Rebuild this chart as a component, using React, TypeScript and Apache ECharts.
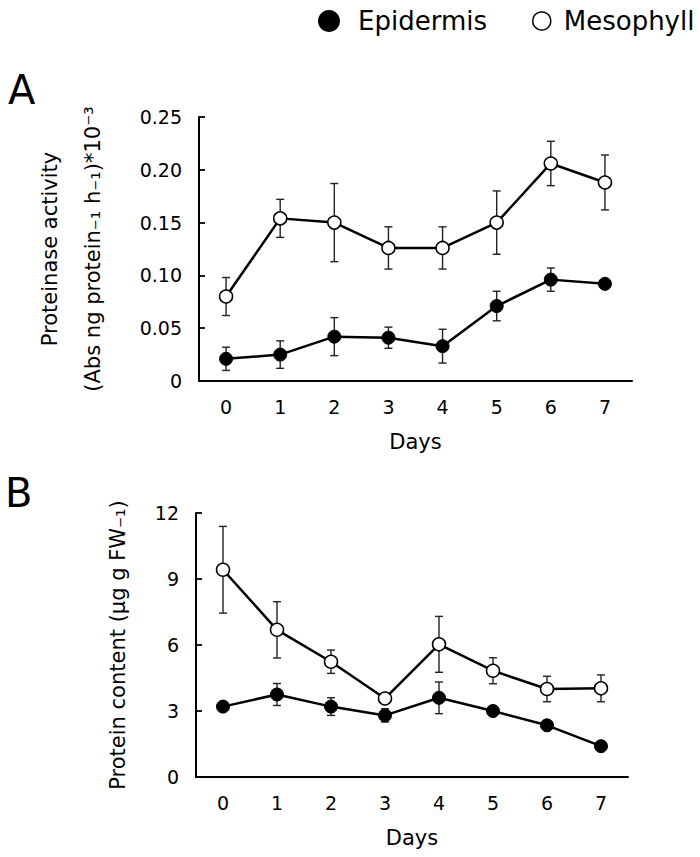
import React, { useEffect, useRef } from "react";
import * as echarts from "echarts";

const days = ["0", "1", "2", "3", "4", "5", "6", "7"];

const activityEpidermis = [0.021, 0.025, 0.042, 0.041, 0.033, 0.071, 0.096, 0.092];
const activityEpidermisErr = [0.011, 0.013, 0.018, 0.01, 0.016, 0.014, 0.011, 0.003];
const activityMesophyll = [0.08, 0.154, 0.15, 0.126, 0.126, 0.15, 0.206, 0.188];
const activityMesophyllErr = [0.018, 0.018, 0.037, 0.02, 0.02, 0.03, 0.021, 0.026];

const proteinEpidermis = [3.2, 3.75, 3.2, 2.8, 3.6, 3.0, 2.35, 1.4];
const proteinEpidermisErr = [0.1, 0.5, 0.4, 0.3, 0.72, 0.1, 0.1, 0.1];
const proteinMesophyll = [9.42, 6.69, 5.24, 3.57, 6.03, 4.83, 4.0, 4.03];
const proteinMesophyllErr = [1.97, 1.28, 0.53, 0.1, 1.27, 0.59, 0.58, 0.61];

const FONT = "DejaVu Sans";

function errData(vals: number[], errs: number[]) {
  return vals.map((v, i) => [i, v, errs[i]]);
}

function errorSeries(vals: number[], errs: number[], idx: number) {
  return {
    type: "custom",
    xAxisIndex: idx,
    yAxisIndex: idx,
    z: 1,
    silent: true,
    encode: { x: 0, y: 1 },
    data: errData(vals, errs),
    renderItem: (params: any, api: any) => {
      const x = api.value(0);
      const y = api.value(1);
      const e = api.value(2);
      const top = api.coord([x, y + e]);
      const bot = api.coord([x, y - e]);
      const w = 4;
      const style = { stroke: "#222", lineWidth: 1.4 };
      return {
        type: "group",
        children: [
          { type: "line", shape: { x1: top[0], y1: top[1], x2: bot[0], y2: bot[1] }, style },
          { type: "line", shape: { x1: top[0] - w, y1: top[1], x2: top[0] + w, y2: top[1] }, style },
          { type: "line", shape: { x1: bot[0] - w, y1: bot[1], x2: bot[0] + w, y2: bot[1] }, style },
        ],
      };
    },
  };
}

function lineSeries(name: string, vals: number[], idx: number, filled: boolean) {
  return {
    type: "line",
    name,
    xAxisIndex: idx,
    yAxisIndex: idx,
    z: 3,
    data: vals,
    symbol: "circle",
    symbolSize: 13,
    showSymbol: true,
    lineStyle: { color: "#000", width: 2.5 },
    itemStyle: filled
      ? { color: "#000", borderColor: "#000", borderWidth: 1 }
      : { color: "#fff", borderColor: "#000", borderWidth: 1.5 },
  };
}

const axisLabelStyle = { fontFamily: FONT, fontSize: 19, color: "#000" };

function xAxis(idx: number) {
  return {
    type: "category",
    gridIndex: idx,
    data: days,
    boundaryGap: true,
    name: "Days",
    nameLocation: "middle",
    nameGap: 50,
    nameTextStyle: { fontFamily: FONT, fontSize: 21, color: "#000" },
    axisLine: { lineStyle: { color: "#000", width: 2 } },
    axisTick: { inside: true, length: 6, alignWithLabel: true, lineStyle: { color: "#000", width: 1.8 } },
    axisLabel: { ...axisLabelStyle, margin: 16 },
    splitLine: { show: false },
  };
}

export default function App() {
  const ref = useRef<HTMLDivElement>(null);
  useEffect(() => {
    if (!ref.current) return;
    const chart = echarts.init(ref.current, null, { renderer: "svg" });
    const option: any = {
      animation: false,
      backgroundColor: "#fff",
      legend: [
        {
          left: 313,
          top: 3,
          itemWidth: 22,
          itemHeight: 22,
          selectedMode: false,
          data: [{ name: "Epidermis", icon: "circle", itemStyle: { color: "#000", borderWidth: 0 } }],
          textStyle: { fontFamily: FONT, fontSize: 26, color: "#000", padding: [0, 0, 0, 13] },
        },
        {
          left: 527,
          top: 3,
          itemWidth: 18,
          itemHeight: 18,
          selectedMode: false,
          data: [{ name: "Mesophyll", icon: "circle", itemStyle: { color: "#fff", borderColor: "#000", borderWidth: 1.5 } }],
          textStyle: { fontFamily: FONT, fontSize: 26, color: "#000", padding: [0, 0, 0, 8] },
        },
      ],
      grid: [
        { left: 199, top: 117, width: 433, height: 264 },
        { left: 196, top: 513, width: 432, height: 264 },
      ],
      xAxis: [xAxis(0), xAxis(1)],
      yAxis: [
        {
          type: "value",
          gridIndex: 0,
          min: 0,
          max: 0.25,
          interval: 0.05,
          name: "Proteinase activity\n(Abs ng protein\u208B\u2081 h\u208B\u2081)*10\u207B\u00B3",
          nameLocation: "middle",
          nameGap: 85,
          nameTextStyle: { fontFamily: FONT, fontSize: 21, color: "#000", lineHeight: 43 },
          axisLine: { show: true, lineStyle: { color: "#000", width: 2 } },
          axisTick: { show: true, inside: true, length: 6, lineStyle: { color: "#000", width: 1.8 } },
          axisLabel: { ...axisLabelStyle, margin: 17, formatter: (v: number) => (v === 0 ? "0" : v.toFixed(2)) },
          splitLine: { show: false },
        },
        {
          type: "value",
          gridIndex: 1,
          min: 0,
          max: 12,
          interval: 3,
          name: "Protein content (\u00B5g g FW\u208B\u2081)",
          nameLocation: "middle",
          nameGap: 68,
          nameTextStyle: { fontFamily: FONT, fontSize: 21, color: "#000", lineHeight: 21 },
          axisLine: { show: true, lineStyle: { color: "#000", width: 2 } },
          axisTick: { show: true, inside: true, length: 6, lineStyle: { color: "#000", width: 1.8 } },
          axisLabel: { ...axisLabelStyle, margin: 17 },
          splitLine: { show: false },
        },
      ],
      graphic: [
        { type: "text", left: 8, top: 70, style: { text: "A", fontFamily: FONT, fontSize: 40, fill: "#000" } },
        { type: "text", left: 5, top: 473, style: { text: "B", fontFamily: FONT, fontSize: 40, fill: "#000" } },
      ],
      series: [
        errorSeries(activityEpidermis, activityEpidermisErr, 0),
        errorSeries(activityMesophyll, activityMesophyllErr, 0),
        lineSeries("Epidermis", activityEpidermis, 0, true),
        lineSeries("Mesophyll", activityMesophyll, 0, false),
        errorSeries(proteinEpidermis, proteinEpidermisErr, 1),
        errorSeries(proteinMesophyll, proteinMesophyllErr, 1),
        lineSeries("Epidermis", proteinEpidermis, 1, true),
        lineSeries("Mesophyll", proteinMesophyll, 1, false),
      ],
    };
    chart.setOption(option);
    return () => chart.dispose();
  }, []);
  return (
    <div
      ref={ref}
      style={{ position: "absolute", left: 0, top: 0, width: 700, height: 857 }}
    />
  );
}
